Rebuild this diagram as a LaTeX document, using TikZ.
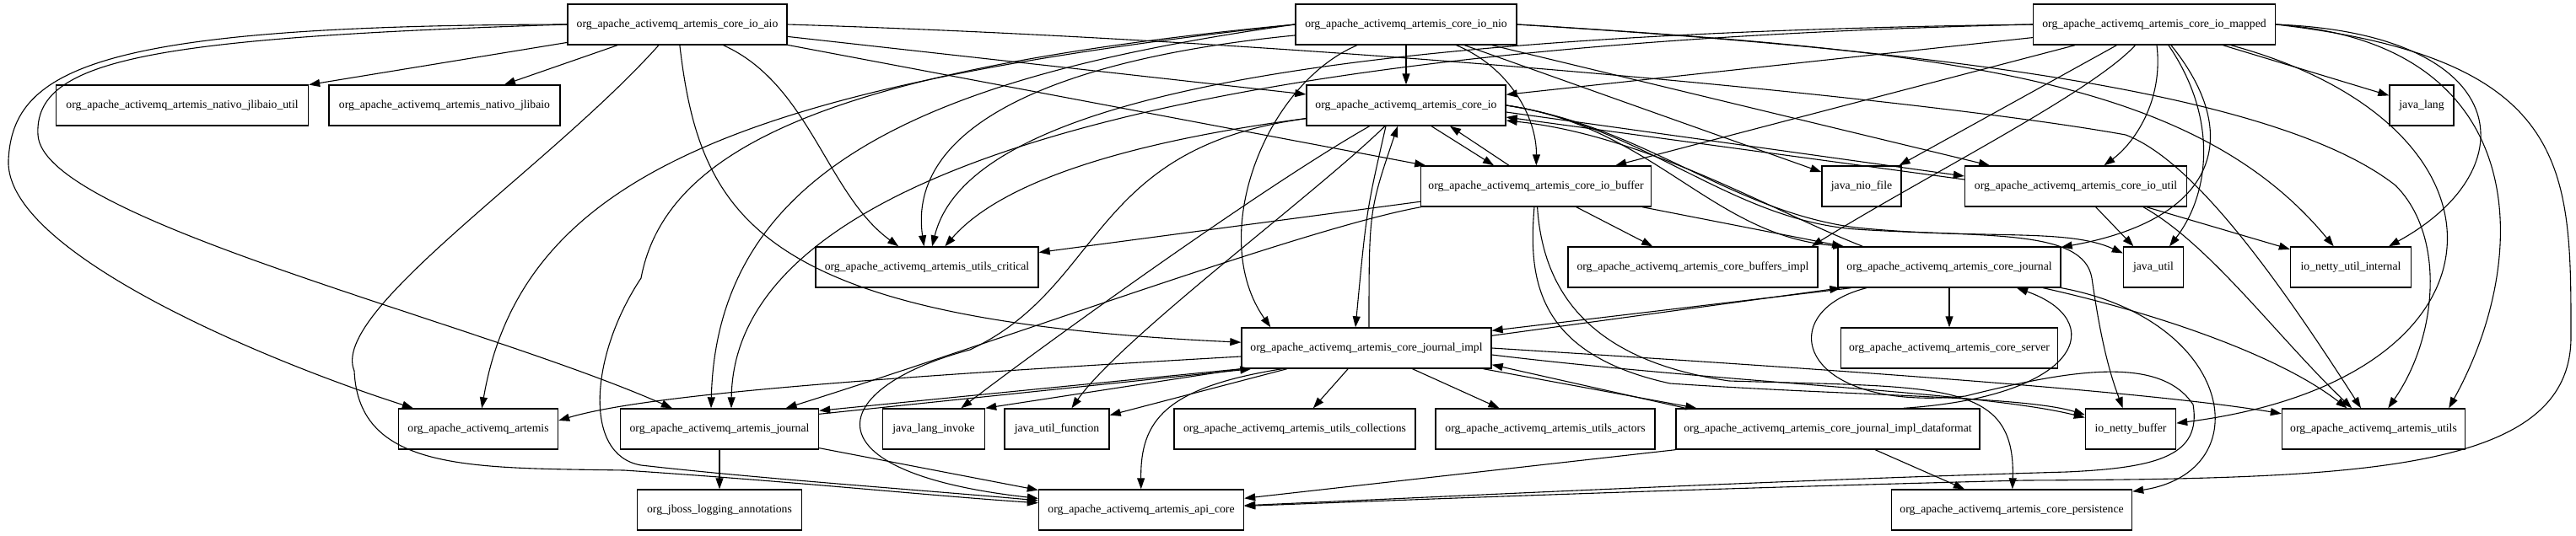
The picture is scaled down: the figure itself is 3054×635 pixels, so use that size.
\documentclass[tikz,border=0pt]{standalone}
\usepackage{fontspec}
\setmainfont{Liberation Serif}
\usepackage{tikz}
\usetikzlibrary{arrows.meta}

\begin{document}
\begin{tikzpicture}[x=1pt,y=-1pt,>={Triangle[length=13pt,width=9pt]},line width=1.1pt,
   pkg/.style={draw,line width=1.4pt,minimum height=48pt,inner sep=0pt,
     font=\fontsize{13.7}{16}\selectfont}]
  \useasboundingbox (0,0) rectangle (3054,635);
  \node[pkg,minimum width=260pt] (aio) at (803,29) {org\_apache\_activemq\_artemis\_core\_io\_aio};
  \node[pkg,minimum width=262pt] (nio) at (1667,29) {org\_apache\_activemq\_artemis\_core\_io\_nio};
  \node[pkg,minimum width=287pt] (mapped) at (2554,29) {org\_apache\_activemq\_artemis\_core\_io\_mapped};
  \node[pkg,minimum width=299pt] (jlibaioutil) at (216,125) {org\_apache\_activemq\_artemis\_nativo\_jlibaio\_util};
  \node[pkg,minimum width=274pt] (jlibaio) at (527,125) {org\_apache\_activemq\_artemis\_nativo\_jlibaio};
  \node[pkg,minimum width=236pt] (coreio) at (1667,125) {org\_apache\_activemq\_artemis\_core\_io};
  \node[pkg,minimum width=76pt] (javalang) at (2871,125) {java\_lang};
  \node[pkg,minimum width=273pt] (iobuffer) at (1821,221) {org\_apache\_activemq\_artemis\_core\_io\_buffer};
  \node[pkg,minimum width=94pt] (niofile) at (2207,221) {java\_nio\_file};
  \node[pkg,minimum width=263pt] (ioutil) at (2461,221) {org\_apache\_activemq\_artemis\_core\_io\_util};
  \node[pkg,minimum width=264pt] (critical) at (1099,317) {org\_apache\_activemq\_artemis\_utils\_critical};
  \node[pkg,minimum width=296pt] (buffersimpl) at (2007,317) {org\_apache\_activemq\_artemis\_core\_buffers\_impl};
  \node[pkg,minimum width=264pt] (corejournal) at (2311,317) {org\_apache\_activemq\_artemis\_core\_journal};
  \node[pkg,minimum width=71pt] (javautil) at (2553,317) {java\_util};
  \node[pkg,minimum width=143pt] (nettyinternal) at (2787,317) {io\_netty\_util\_internal};
  \node[pkg,minimum width=296pt] (journalimpl) at (1620,413) {org\_apache\_activemq\_artemis\_core\_journal\_impl};
  \node[pkg,minimum width=257pt] (coreserver) at (2311,413) {org\_apache\_activemq\_artemis\_core\_server};
  \node[pkg,minimum width=189pt] (artemis) at (567,509) {org\_apache\_activemq\_artemis};
  \node[pkg,minimum width=235pt] (journal) at (853,509) {org\_apache\_activemq\_artemis\_journal};
  \node[pkg,minimum width=121pt] (invoke) at (1107,509) {java\_lang\_invoke};
  \node[pkg,minimum width=124pt] (function) at (1253,509) {java\_util\_function};
  \node[pkg,minimum width=286pt] (collections) at (1535,509) {org\_apache\_activemq\_artemis\_utils\_collections};
  \node[pkg,minimum width=260pt] (actors) at (1832,509) {org\_apache\_activemq\_artemis\_utils\_actors};
  \node[pkg,minimum width=360pt] (dataformat) at (2167,509) {org\_apache\_activemq\_artemis\_core\_journal\_impl\_dataformat};
  \node[pkg,minimum width=107pt] (nettybuffer) at (2526,509) {io\_netty\_buffer};
  \node[pkg,minimum width=217pt] (utils) at (2814,509) {org\_apache\_activemq\_artemis\_utils};
  \node[pkg,minimum width=195pt] (jboss) at (853,605) {org\_jboss\_logging\_annotations};
  \node[pkg,minimum width=243pt] (apicore) at (1353,605) {org\_apache\_activemq\_artemis\_api\_core};
  \node[pkg,minimum width=285pt] (persistence) at (2385,605) {org\_apache\_activemq\_artemis\_core\_persistence};

  \draw[->] (aio) -- (jlibaioutil);
  \draw[->] (aio) -- (jlibaio);
  \draw[->] (aio.west) .. controls (120,30) and (15,80) .. (10,190) .. controls (5,300) and (320,430) .. (artemis);
  \draw[->] (aio.west) .. controls (180,45) and (40,70) .. (45,160) .. controls (50,260) and (560,380) .. (journal);
  \draw[->] (aio) .. controls (650,200) and (390,370) .. (420,440) .. controls (425,560) and (560,555) .. (740,558) .. controls (950,572) and (1100,588) .. (apicore);
  \draw[->] (aio) .. controls (960,100) and (980,230) .. (critical);
  \draw[->] (aio) .. controls (830,260) and (900,380) .. (journalimpl);
  \draw[->] (aio) -- (coreio);
  \draw[->] (aio) -- (iobuffer);
  \draw[->] (aio.east) .. controls (1600,50) and (2300,120) .. (2520,160) .. controls (2600,190) and (2700,330) .. ([xshift=-15pt]utils.north);

  \draw[->] (nio) -- (coreio);
  \draw[->] (nio) .. controls (1790,80) and (1822,140) .. (iobuffer);
  \draw[->] (nio.west) .. controls (900,100) and (620,200) .. (artemis);
  \draw[->] (nio.west) .. controls (1100,90) and (850,200) .. ([xshift=-10pt]journal.north);
  \draw[->] (nio.west) .. controls (1000,80) and (790,170) .. (760,330) .. controls (700,420) and (690,540) .. (760,552) .. controls (900,568) and (1100,582) .. (apicore);
  \draw[->] (nio) .. controls (1250,70) and (1075,150) .. (critical);
  \draw[->] (nio) .. controls (1500,100) and (1430,280) .. ([xshift=35pt]journalimpl.north west);
  \draw[->] (nio) -- (niofile);
  \draw[->] (nio) -- (ioutil);
  \draw[->] (nio.east) .. controls (2300,60) and (2600,90) .. (nettyinternal);
  \draw[->] (nio.east) .. controls (2300,60) and (2700,110) .. (2840,220) .. controls (2900,280) and (2890,400) .. (utils);

  \draw[->] (mapped) -- (coreio);
  \draw[->] (mapped) -- (iobuffer);
  \draw[->] (mapped) -- (niofile);
  \draw[->] (mapped) .. controls (2565,120) and (2530,170) .. (ioutil);
  \draw[->] (mapped) -- (javalang);
  \draw[->] (mapped.east) .. controls (2980,40) and (3000,200) .. (nettyinternal);
  \draw[->] (mapped.east) .. controls (3000,50) and (3005,300) .. ([xshift=-20pt]utils.north east);
  \draw[->] (mapped.east) .. controls (3050,70) and (3048,200) .. (3048,400) .. controls (3048,560) and (2800,568) .. (2400,570) .. controls (2000,580) and (1700,592) .. (apicore);
  \draw[->] (mapped) .. controls (3000,150) and (2990,450) .. (nettybuffer);
  \draw[->] (mapped) .. controls (2480,110) and (2280,210) .. ([xshift=-8pt]buffersimpl.north east);
  \draw[->] (mapped) .. controls (2660,160) and (2630,260) .. (corejournal);
  \draw[->] (mapped) .. controls (2630,140) and (2620,230) .. (javautil);
  \draw[->] (mapped.west) .. controls (1600,40) and (1150,110) .. (critical);
  \draw[->] (mapped.west) .. controls (1300,55) and (870,230) .. ([xshift=14pt]journal.north);

  \draw[->] (coreio) .. controls (1400,160) and (1200,200) .. (critical);
  \draw[->] ([xshift=30pt]coreio.south) -- ([xshift=-50pt]iobuffer.north);
  \draw[->] ([xshift=-24pt]coreio.south) .. controls (1620,250) .. ([xshift=-13pt]journalimpl.north);
  \draw[->] ([yshift=-8pt]coreio.east) -- ([yshift=12pt]ioutil.west);
  \draw[->] (coreio.east) .. controls (1960,150) and (2030,280) .. ([xshift=8pt]corejournal.north west);
  \draw[->] (coreio.east) .. controls (1950,150) and (2050,250) .. (2200,270) .. controls (2350,285) and (2450,270) .. (javautil);
  \draw[->] (coreio.east) .. controls (1950,150) and (2050,260) .. (2200,272) .. controls (2350,282) and (2470,270) .. (2480,330) .. controls (2490,400) and (2500,440) .. (nettybuffer);
  \draw[->] (coreio) .. controls (1500,220) and (1250,400) .. (invoke);
  \draw[->] (coreio) .. controls (1560,230) and (1330,400) .. (function);
  \draw[->] (coreio) .. controls (1290,175) and (1310,340) .. (1150,415) .. controls (980,460) and (950,560) .. (apicore);

  \draw[->] ([xshift=-32pt]iobuffer.north) -- ([xshift=52pt]coreio.south);
  \draw[->] (iobuffer) -- (critical);
  \draw[->] (iobuffer) -- (buffersimpl);
  \draw[->] (iobuffer) -- (corejournal);
  \draw[->] (iobuffer) .. controls (1550,270) and (1200,400) .. (journal);
  \draw[->] (iobuffer) .. controls (1812,330) and (1820,420) .. (1980,455) .. controls (2200,470) and (2400,470) .. (nettybuffer);
  \draw[->] (iobuffer) .. controls (1830,360) and (1900,430) .. (2050,452) .. controls (2300,460) and (2390,450) .. (persistence);

  \draw[->] ([yshift=8pt]ioutil.west) -- ([yshift=-14pt]coreio.east);
  \draw[->] (ioutil) -- (javautil);
  \draw[->] (ioutil) -- (nettyinternal);
  \draw[->] ([xshift=80pt]ioutil.south) .. controls (2620,290) and (2700,400) .. (utils);

  \draw[->] ([xshift=30pt]corejournal.north west) .. controls (2100,250) and (1950,160) .. ([yshift=-18pt]coreio.east);
  \draw[->] (corejournal) -- (coreserver);
  \draw[->] ([xshift=16pt]corejournal.south west) -- ([yshift=-4pt]journalimpl.north east);
  \draw[->] (corejournal) .. controls (2650,380) and (2680,560) .. (persistence);
  \draw[->] (corejournal) .. controls (2100,370) and (2130,490) .. (2330,470) .. controls (2450,440) and (2560,420) .. (2600,480) .. controls (2610,540) and (2560,555) .. (2450,560) .. controls (2100,570) and (1700,590) .. (apicore);
  \draw[->] (corejournal) .. controls (2550,370) and (2700,420) .. (utils);

  \draw[->] ([xshift=3pt]journalimpl.north) .. controls (1623,250) .. ([xshift=-10pt]coreio.south);
  \draw[->] ([yshift=-10pt]journalimpl.north east) -- ([xshift=4pt]corejournal.south west);
  \draw[->] (journalimpl.south west) -- ([yshift=-3pt]journal.north east);
  \draw[->] ([xshift=-10pt]journalimpl.south east) -- ([xshift=25pt]dataformat.north west);
  \draw[->] ([yshift=-10pt]journalimpl.west) .. controls (1000,450) and (760,470) .. ([yshift=10pt]artemis.east);
  \draw[->] (journalimpl.south west) -- (invoke.north east);
  \draw[->] (journalimpl) -- (function);
  \draw[->] (journalimpl) -- (collections);
  \draw[->] (journalimpl) -- (actors);
  \draw[->] ([xshift=-100pt]journalimpl.south) .. controls (1380,460) and (1352,500) .. (apicore);
  \draw[->] ([yshift=-8pt]journalimpl.east) .. controls (2050,455) and (2350,465) .. (nettybuffer);
  \draw[->] (journalimpl.east) .. controls (2200,440) and (2550,465) .. (utils);

  \draw[->] (dataformat) -- (persistence);
  \draw[->] (dataformat.south west) -- (apicore);
  \draw[->] ([xshift=12pt]dataformat.north west) -- ([yshift=5pt]journalimpl.south east);
  \draw[->] ([xshift=90pt]dataformat.north) .. controls (2470,470) and (2500,380) .. ([xshift=80pt]corejournal.south);

  \draw[->] (journal) -- (jboss);
  \draw[->] (journal) -- (apicore);
  \draw[->] ([yshift=-7pt]journal.north east) -- ([xshift=12pt]journalimpl.south west);
\end{tikzpicture}
\end{document}
